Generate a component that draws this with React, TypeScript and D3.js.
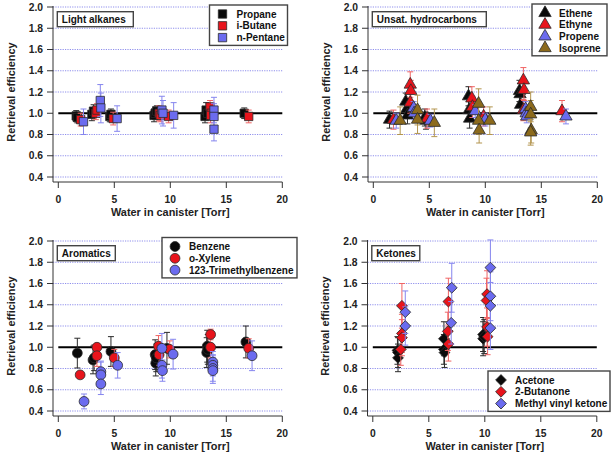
import React from 'react'
import * as d3 from 'd3'

type Pt = [number, number, number] // water [Torr], retrieval efficiency, error

// Light alkanes
const propane: Pt[] = [
  [1.6, 0.975, 0.05], [1.7, 0.96, 0.05], [3.0, 0.99, 0.06], [3.15, 1.02, 0.06],
  [4.6, 0.97, 0.05], [4.7, 0.99, 0.05], [8.55, 0.98, 0.06], [8.65, 1.0, 0.06],
  [8.8, 1.02, 0.05], [13.1, 0.97, 0.06], [13.2, 1.03, 0.07], [13.35, 1.0, 0.06],
  [16.6, 1.0, 0.05],
]
const iButane: Pt[] = [
  [2.0, 0.94, 0.06], [3.35, 1.0, 0.06], [3.45, 1.03, 0.06], [4.9, 0.95, 0.06],
  [9.0, 1.0, 0.07], [9.1, 0.98, 0.06], [9.85, 0.97, 0.06], [13.55, 1.06, 0.06],
  [13.65, 1.0, 0.06], [13.6, 0.98, 0.07], [17.0, 0.97, 0.06],
]
const nPentane: Pt[] = [
  [2.25, 0.92, 0.12], [3.75, 1.12, 0.15], [3.8, 1.05, 0.14], [5.25, 0.95, 0.12],
  [9.25, 1.03, 0.13], [9.35, 1.0, 0.12], [10.3, 0.98, 0.12], [13.9, 1.03, 0.12],
  [13.9, 0.97, 0.12], [13.9, 0.85, 0.11],
]

// Unsaturated hydrocarbons
const ethene: Pt[] = [
  [1.45, 0.94, 0.08], [2.9, 1.11, 0.08], [3.0, 1.04, 0.09], [3.05, 0.98, 0.08],
  [4.6, 0.96, 0.08], [4.7, 0.93, 0.08], [8.5, 1.16, 0.09], [8.55, 1.03, 0.08],
  [8.6, 0.95, 0.09], [13.05, 1.21, 0.1], [13.1, 1.18, 0.1], [13.15, 1.08, 0.08],
]
const ethyne: Pt[] = [
  [1.8, 0.94, 0.09], [3.3, 1.27, 0.12], [3.35, 1.21, 0.1], [3.3, 1.1, 0.1],
  [4.8, 0.95, 0.09], [8.8, 1.14, 0.11], [8.85, 1.06, 0.1], [9.85, 0.97, 0.09],
  [13.4, 1.31, 0.12], [13.45, 1.22, 0.1], [13.4, 1.03, 0.1], [16.85, 1.02, 0.1],
]
const propene: Pt[] = [
  [2.05, 0.93, 0.07], [3.6, 1.05, 0.06], [3.65, 1.0, 0.06], [5.1, 0.93, 0.06],
  [9.1, 1.02, 0.06], [10.0, 0.94, 0.06], [13.6, 1.04, 0.07], [13.65, 1.0, 0.06],
  [13.7, 0.97, 0.06], [17.2, 0.97, 0.07],
]
const isoprene: Pt[] = [
  [2.4, 0.93, 0.13], [3.95, 1.03, 0.14], [3.95, 0.94, 0.13], [5.45, 0.91, 0.13],
  [9.4, 1.09, 0.14], [9.4, 0.93, 0.13], [9.45, 0.84, 0.12], [10.4, 0.93, 0.13],
  [14.05, 1.06, 0.14], [14.05, 0.99, 0.13], [14.1, 0.84, 0.12], [14.05, 0.82, 0.12],
]

// Aromatics
const benzene: Pt[] = [
  [1.7, 0.945, 0.14], [3.1, 0.88, 0.13], [3.2, 0.9, 0.12], [4.7, 0.96, 0.14],
  [8.65, 0.93, 0.14], [8.7, 0.85, 0.12], [8.75, 0.9, 0.13], [9.7, 0.99, 0.15],
  [13.25, 0.95, 0.14], [13.3, 1.01, 0.15], [13.35, 0.98, 0.14], [16.75, 1.05, 0.15],
]
const oXylene: Pt[] = [
  [1.95, 0.74, 0.02], [3.45, 1.0, 0.03], [3.45, 0.92, 0.1], [5.0, 0.9, 0.08],
  [8.95, 1.01, 0.1], [9.0, 0.93, 0.1], [9.95, 0.98, 0.08], [13.6, 1.12, 0.05],
  [13.6, 1.0, 0.1], [17.0, 0.99, 0.09],
]
const trimethylbenzene: Pt[] = [
  [2.3, 0.49, 0.07], [3.8, 0.77, 0.1], [3.8, 0.74, 0.12], [3.8, 0.655, 0.1],
  [5.3, 0.83, 0.12], [9.25, 0.99, 0.14], [9.25, 0.83, 0.12], [9.3, 0.78, 0.1],
  [10.25, 0.935, 0.14], [13.8, 0.86, 0.1], [13.8, 0.83, 0.1], [13.8, 0.8, 0.12],
  [13.8, 0.78, 0.12], [17.3, 0.92, 0.14],
]

// Ketones
const acetone: Pt[] = [
  [2.2, 0.97, 0.13], [2.25, 0.95, 0.14], [2.25, 0.9, 0.13], [6.35, 1.08, 0.16],
  [6.35, 0.98, 0.14], [6.4, 0.95, 0.14], [9.85, 1.12, 0.16], [9.85, 1.08, 0.16],
  [9.95, 1.1, 0.16],
]
const butanone: Pt[] = [
  [2.6, 1.39, 0.21], [2.6, 1.13, 0.18], [2.6, 1.09, 0.17], [2.5, 0.98, 0.15],
  [6.75, 1.43, 0.22], [6.7, 1.15, 0.18], [6.75, 1.03, 0.16], [10.2, 1.5, 0.22],
  [10.15, 1.44, 0.21], [10.2, 1.19, 0.18], [10.25, 1.1, 0.17],
]
const methylVinylKetone: Pt[] = [
  [2.9, 1.33, 0.2], [2.9, 1.2, 0.18], [7.05, 1.56, 0.23], [7.0, 1.23, 0.2],
  [10.5, 1.75, 0.26], [10.5, 1.48, 0.23], [10.5, 1.39, 0.22], [10.5, 1.18, 0.2],
]

const xTicks = [0, 5, 10, 15, 20]
const yTicks = [0.4, 0.6, 0.8, 1.0, 1.2, 1.4, 1.6, 1.8, 2.0]

const FONT = '"Liberation Sans", Arial, sans-serif'

type Shape = 'square' | 'triangle' | 'circle' | 'diamond'
interface Series {
  name: string
  data: Pt[]
  shape: Shape
  fill: string
  bar: string
}

const BLACK = { fill: '#0a0a0a', bar: '#2a2a2a' }
const RED = { fill: '#e8141c', bar: '#f06464' }
const BLUE = { fill: '#6b6bef', bar: '#8585ee' }
const BROWN = { fill: '#8c6a1c', bar: '#b3954f' }

const symbolPath = (shape: Shape) => {
  if (shape === 'square') return d3.symbol(d3.symbolSquare, 70)()
  if (shape === 'triangle') return d3.symbol(d3.symbolTriangle, 66)()
  if (shape === 'circle') return d3.symbol(d3.symbolCircle, 76)()
  return d3.symbol(d3.symbolSquare, 58)()
}

interface PanelProps {
  left: number
  top: number
  title: string
  titleW: number
  series: Series[]
  legend: { x: number; y: number; w: number }
}

const Panel = ({ left, top, title, titleW, series, legend }: PanelProps) => {
  const x = d3.scaleLinear().domain([0, 20]).range([left, left + 224])
  const y = d3.scaleLinear().domain([0.4, 2.0]).range([top + 170, top])
  const axisX = left - 5.3
  const axisY = top + 175
  const rowH = series.length === 4 ? 11.7 : 11.8

  return (
    <g fontFamily={FONT} fontWeight="bold">
      {/* dotted grid */}
      {yTicks
        .filter((t) => Math.abs(t - 1) > 1e-6)
        .map((t) => (
          <line
            key={t}
            x1={axisX}
            x2={x(20)}
            y1={y(t)}
            y2={y(t)}
            stroke="#8282ea"
            strokeWidth={0.9}
            strokeDasharray="1.2 1.2"
          />
        ))}
      <line x1={x(0)} x2={x(20)} y1={y(1)} y2={y(1)} stroke="#000" strokeWidth={2} />

      {/* axes */}
      <line x1={axisX} x2={axisX} y1={top - 1} y2={axisY} stroke="#333" strokeWidth={1} />
      <line x1={axisX} x2={x(20)} y1={axisY} y2={axisY} stroke="#333" strokeWidth={1} />
      {yTicks.map((t) => (
        <g key={t}>
          <line x1={axisX - 6} x2={axisX} y1={y(t)} y2={y(t)} stroke="#333" />
          <text x={axisX - 10} y={y(t) + 3.7} fontSize={10.3} textAnchor="end" fill="#222">
            {t.toFixed(1)}
          </text>
        </g>
      ))}
      {xTicks.map((t) => (
        <g key={t}>
          <line x1={x(t)} x2={x(t)} y1={axisY} y2={axisY + 6} stroke="#333" />
          <text x={x(t)} y={axisY + 21} fontSize={10.3} textAnchor="middle" fill="#222">
            {t}
          </text>
        </g>
      ))}
      <text x={x(10)} y={axisY + 34} fontSize={10.9} textAnchor="middle" fill="#222">
        Water in canister [Torr]
      </text>
      <text
        transform={`translate(${axisX - 38.5},${y(1.2)}) rotate(-90)`}
        fontSize={10.9}
        textAnchor="middle"
        fill="#222"
      >
        Retrieval efficiency
      </text>

      {/* data */}
      {series.map((s) => (
        <g key={s.name}>
          {s.data.map(([wx, wy, e], i) => (
            <g key={i} stroke={s.bar} strokeWidth={1}>
              <line x1={x(wx)} x2={x(wx)} y1={y(wy - e)} y2={y(wy + e)} />
              <line x1={x(wx) - 3} x2={x(wx) + 3} y1={y(wy - e)} y2={y(wy - e)} />
              <line x1={x(wx) - 3} x2={x(wx) + 3} y1={y(wy + e)} y2={y(wy + e)} />
            </g>
          ))}
          {s.data.map(([wx, wy], i) => (
            <path
              key={i}
              d={symbolPath(s.shape) ?? ''}
              transform={`translate(${x(wx)},${y(wy)})${s.shape === 'diamond' ? ' rotate(45)' : ''}`}
              fill={s.fill}
              stroke="#2b2b2b"
              strokeWidth={0.8}
            />
          ))}
        </g>
      ))}

      {/* panel title */}
      <rect x={left - 1} y={top + 4.7} width={titleW} height={15} fill="#fff" stroke="#444" strokeWidth={1.4} />
      <text x={left + 3.5} y={top + 16} fontSize={10} fill="#111">
        {title}
      </text>

      {/* legend */}
      <rect
        x={legend.x}
        y={legend.y}
        width={legend.w}
        height={series.length * rowH + 5}
        fill="#fff"
        stroke="#444"
        strokeWidth={1.4}
      />
      {series.map((s, i) => {
        const cy = legend.y + 9 + i * rowH
        return (
          <g key={s.name}>
            <path
              d={symbolPath(s.shape) ?? ''}
              transform={`translate(${legend.x + 13},${cy})${s.shape === 'diamond' ? ' rotate(45)' : ''}`}
              fill={s.fill}
              stroke="#2b2b2b"
              strokeWidth={0.8}
            />
            <text x={legend.x + 27} y={cy + 3.6} fontSize={10} fill="#111">
              {s.name}
            </text>
          </g>
        )
      })}
    </g>
  )
}

const App = () => {
  return (
    <svg width={613} height={453} style={{ position: 'absolute', left: 0, top: 0 }}>
      <rect width={613} height={453} fill="#fff" />
      <Panel
        left={58.3}
        top={7}
        title="Light alkanes"
        titleW={76}
        legend={{ x: 209.5, y: 5, w: 78 }}
        series={[
          { name: 'Propane', data: propane, shape: 'square', ...BLACK },
          { name: 'i-Butane', data: iButane, shape: 'square', ...RED },
          { name: 'n-Pentane', data: nPentane, shape: 'square', ...BLUE },
        ]}
      />
      <Panel
        left={373.3}
        top={7}
        title="Unsat. hydrocarbons"
        titleW={114}
        legend={{ x: 532, y: 4, w: 75 }}
        series={[
          { name: 'Ethene', data: ethene, shape: 'triangle', ...BLACK },
          { name: 'Ethyne', data: ethyne, shape: 'triangle', ...RED },
          { name: 'Propene', data: propene, shape: 'triangle', ...BLUE },
          { name: 'Isoprene', data: isoprene, shape: 'triangle', ...BROWN },
        ]}
      />
      <Panel
        left={58.3}
        top={241}
        title="Aromatics"
        titleW={58}
        legend={{ x: 162, y: 237.5, w: 135 }}
        series={[
          { name: 'Benzene', data: benzene, shape: 'circle', ...BLACK },
          { name: 'o-Xylene', data: oXylene, shape: 'circle', ...RED },
          { name: '123-Trimethylbenzene', data: trimethylbenzene, shape: 'circle', ...BLUE },
        ]}
      />
      <Panel
        left={372.8}
        top={241}
        title="Ketones"
        titleW={48}
        legend={{ x: 488, y: 371, w: 122 }}
        series={[
          { name: 'Acetone', data: acetone, shape: 'diamond', ...BLACK },
          { name: '2-Butanone', data: butanone, shape: 'diamond', ...RED },
          { name: 'Methyl vinyl ketone', data: methylVinylKetone, shape: 'diamond', ...BLUE },
        ]}
      />
    </svg>
  )
}

export default App
